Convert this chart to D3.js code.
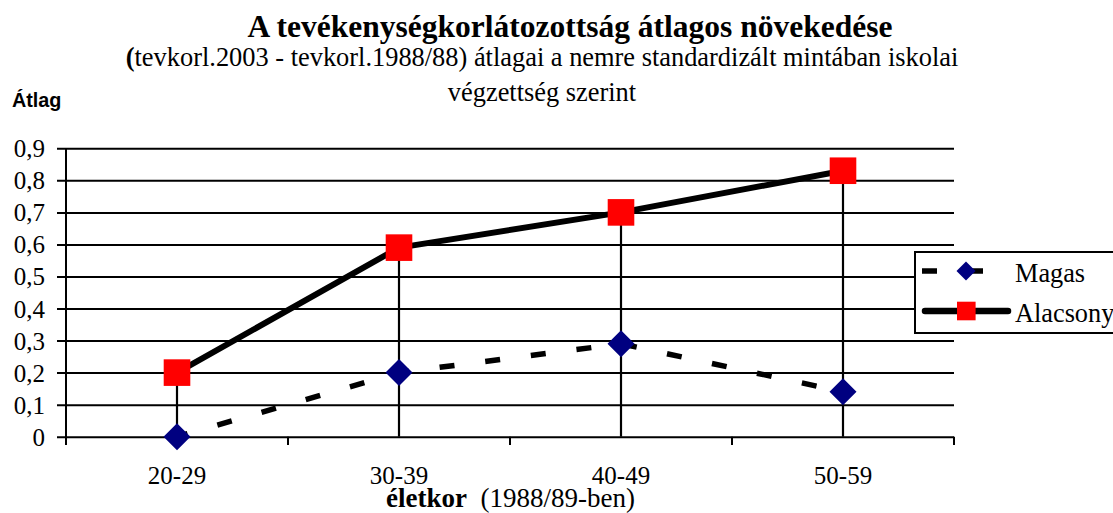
<!DOCTYPE html>
<html>
<head>
<meta charset="utf-8">
<script src="https://cdn.jsdelivr.net/npm/d3@7"></script>
<style>
  html, body { margin: 0; padding: 0; background: #fff; }
</style>
</head>
<body>
<div id="chart"></div>
<script>
const width = 1113;
const height = 513;
const serif = "'Liberation Serif', 'Times New Roman', Times, serif";
const sans = "'Liberation Sans', Arial, sans-serif";

// data
const categories = ["20-29", "30-39", "40-49", "50-59"];
const magas = [0, 0.2, 0.29, 0.14];
const alacsony = [0.2, 0.59, 0.70, 0.83];
const yTicks = [0, 0.1, 0.2, 0.3, 0.4, 0.5, 0.6, 0.7, 0.8, 0.9];
const seriesNames = ["Magas", "Alacsony"];

const svg = d3.select("#chart")
    .append("svg")
    .attr("width", width)
    .attr("height", height)
    .style("font-family", serif);

svg.append("rect").attr("width", width).attr("height", height).attr("fill", "#fff");

const x = d3.scaleBand().domain(categories).range([66, 954]).padding(0);
const y = d3.scaleLinear().domain([0, 0.9]).range([436.7, 148.3]);
const cx = d => x(d) + x.bandwidth() / 2;
const fmt = v => v === 0 ? "0" : d3.format(".1f")(v).replace(".", ",");

// titles
svg.append("text")
    .attr("x", 570).attr("y", 37)
    .attr("text-anchor", "middle")
    .style("font-family", serif)
    .attr("font-size", 31.5).attr("font-weight", "bold")
    .text("A tevékenységkorlátozottság átlagos növekedése");

const sub = svg.append("text")
    .attr("x", 542).attr("y", 66)
    .attr("text-anchor", "middle")
    .style("font-family", serif)
    .attr("font-size", 26.4);
sub.append("tspan").attr("font-weight", "bold").text("(");
sub.append("tspan").text("tevkorl.2003 - tevkorl.1988/88) átlagai a nemre standardizált mintában iskolai");

svg.append("text")
    .attr("x", 542).attr("y", 101)
    .attr("text-anchor", "middle")
    .style("font-family", serif)
    .attr("font-size", 26.4)
    .text("végzettség szerint");

svg.append("text")
    .attr("x", 12).attr("y", 107)
    .style("font-family", sans)
    .attr("font-weight", "bold")
    .attr("font-size", 19.8)
    .text("Átlag");

// grid + y axis
const yAxis = d3.axisLeft(y)
    .tickValues(yTicks)
    .tickFormat(fmt)
    .tickSize(-(954 - 57))
    .tickPadding(12);

const gy = svg.append("g")
    .attr("transform", "translate(57,0)")
    .call(yAxis);
gy.select(".domain").remove();
gy.selectAll(".tick line").attr("stroke", "#000").attr("stroke-width", 2);
gy.selectAll(".tick text")
    .attr("font-size", 25)
    .style("font-family", serif)
    .attr("dy", "0.34em");

// left axis line
svg.append("line")
    .attr("x1", 66).attr("x2", 66)
    .attr("y1", y(0.9)).attr("y2", 445)
    .attr("stroke", "#000").attr("stroke-width", 2);

// x axis
const xAxis = d3.axisBottom(x).tickSize(0).tickPadding(29.5);
const gx = svg.append("g")
    .attr("transform", `translate(0,${y(0)})`)
    .call(xAxis);
gx.select(".domain").remove();
gx.selectAll(".tick text")
    .attr("font-size", 25)
    .style("font-family", serif);

// category boundary ticks
svg.append("g").selectAll("line")
    .data(categories)
    .join("line")
    .attr("x1", d => x(d) + x.bandwidth())
    .attr("x2", d => x(d) + x.bandwidth())
    .attr("y1", y(0)).attr("y2", 445)
    .attr("stroke", "#000").attr("stroke-width", 2);

// x title
const xt = svg.append("text")
    .attr("x", 386).attr("y", 507)
    .style("font-family", serif)
    .attr("font-size", 27);
xt.append("tspan").attr("font-weight", "bold").text("életkor");
xt.append("tspan").text("\u00a0 (1988/89-ben)");

// drop lines
svg.append("g").selectAll("line")
    .data(categories)
    .join("line")
    .attr("x1", cx).attr("x2", cx)
    .attr("y1", (d, i) => y(Math.max(magas[i], alacsony[i])))
    .attr("y2", y(0))
    .attr("stroke", "#000").attr("stroke-width", 2.2);

const line = d3.line().x((d, i) => cx(categories[i])).y(d => y(d));

svg.append("path")
    .datum(magas)
    .attr("d", line)
    .attr("fill", "none")
    .attr("stroke", "#000")
    .attr("stroke-width", 5.5)
    .attr("stroke-dasharray", "15,31")
    .attr("stroke-dashoffset", 4);

svg.append("path")
    .datum(alacsony)
    .attr("d", line)
    .attr("fill", "none")
    .attr("stroke", "#000")
    .attr("stroke-width", 6)
    .attr("stroke-linejoin", "round");

const diamond = s => `M0,${-s}L${s},0L0,${s}L${-s},0Z`;

svg.append("g").selectAll("path")
    .data(magas)
    .join("path")
    .attr("transform", (d, i) => `translate(${cx(categories[i])},${y(d)})`)
    .attr("d", diamond(13.5))
    .attr("fill", "#000080");

svg.append("g").selectAll("rect")
    .data(alacsony)
    .join("rect")
    .attr("x", (d, i) => cx(categories[i]) - 13.3)
    .attr("y", d => y(d) - 13.3)
    .attr("width", 26.6).attr("height", 26.6)
    .attr("fill", "#ff0000");

// legend
const lg = svg.append("g");
lg.append("rect")
    .attr("x", 915).attr("y", 252)
    .attr("width", 220).attr("height", 81)
    .attr("fill", "#fff").attr("stroke", "#000").attr("stroke-width", 2);

const rows = [271, 311];
lg.append("line")
    .attr("x1", 922).attr("x2", 1011)
    .attr("y1", rows[0]).attr("y2", rows[0])
    .attr("stroke", "#000").attr("stroke-width", 5.5)
    .attr("stroke-dasharray", "15,31");
lg.append("path")
    .attr("transform", `translate(966,${rows[0]})`)
    .attr("d", diamond(9.5))
    .attr("fill", "#000080");

lg.append("line")
    .attr("x1", 925).attr("x2", 1008)
    .attr("y1", rows[1]).attr("y2", rows[1])
    .attr("stroke", "#000").attr("stroke-width", 6.5)
    .attr("stroke-linecap", "round");
lg.append("rect")
    .attr("x", 957).attr("y", rows[1] - 9.3)
    .attr("width", 18.6).attr("height", 18.6)
    .attr("fill", "#ff0000");

lg.selectAll("text.lab")
    .data(seriesNames)
    .join("text")
    .attr("class", "lab")
    .attr("x", 1015)
    .attr("y", (d, i) => rows[i] + 11)
    .style("font-family", serif)
    .attr("font-size", 26.3)
    .text(d => d);
</script>
</body>
</html>
